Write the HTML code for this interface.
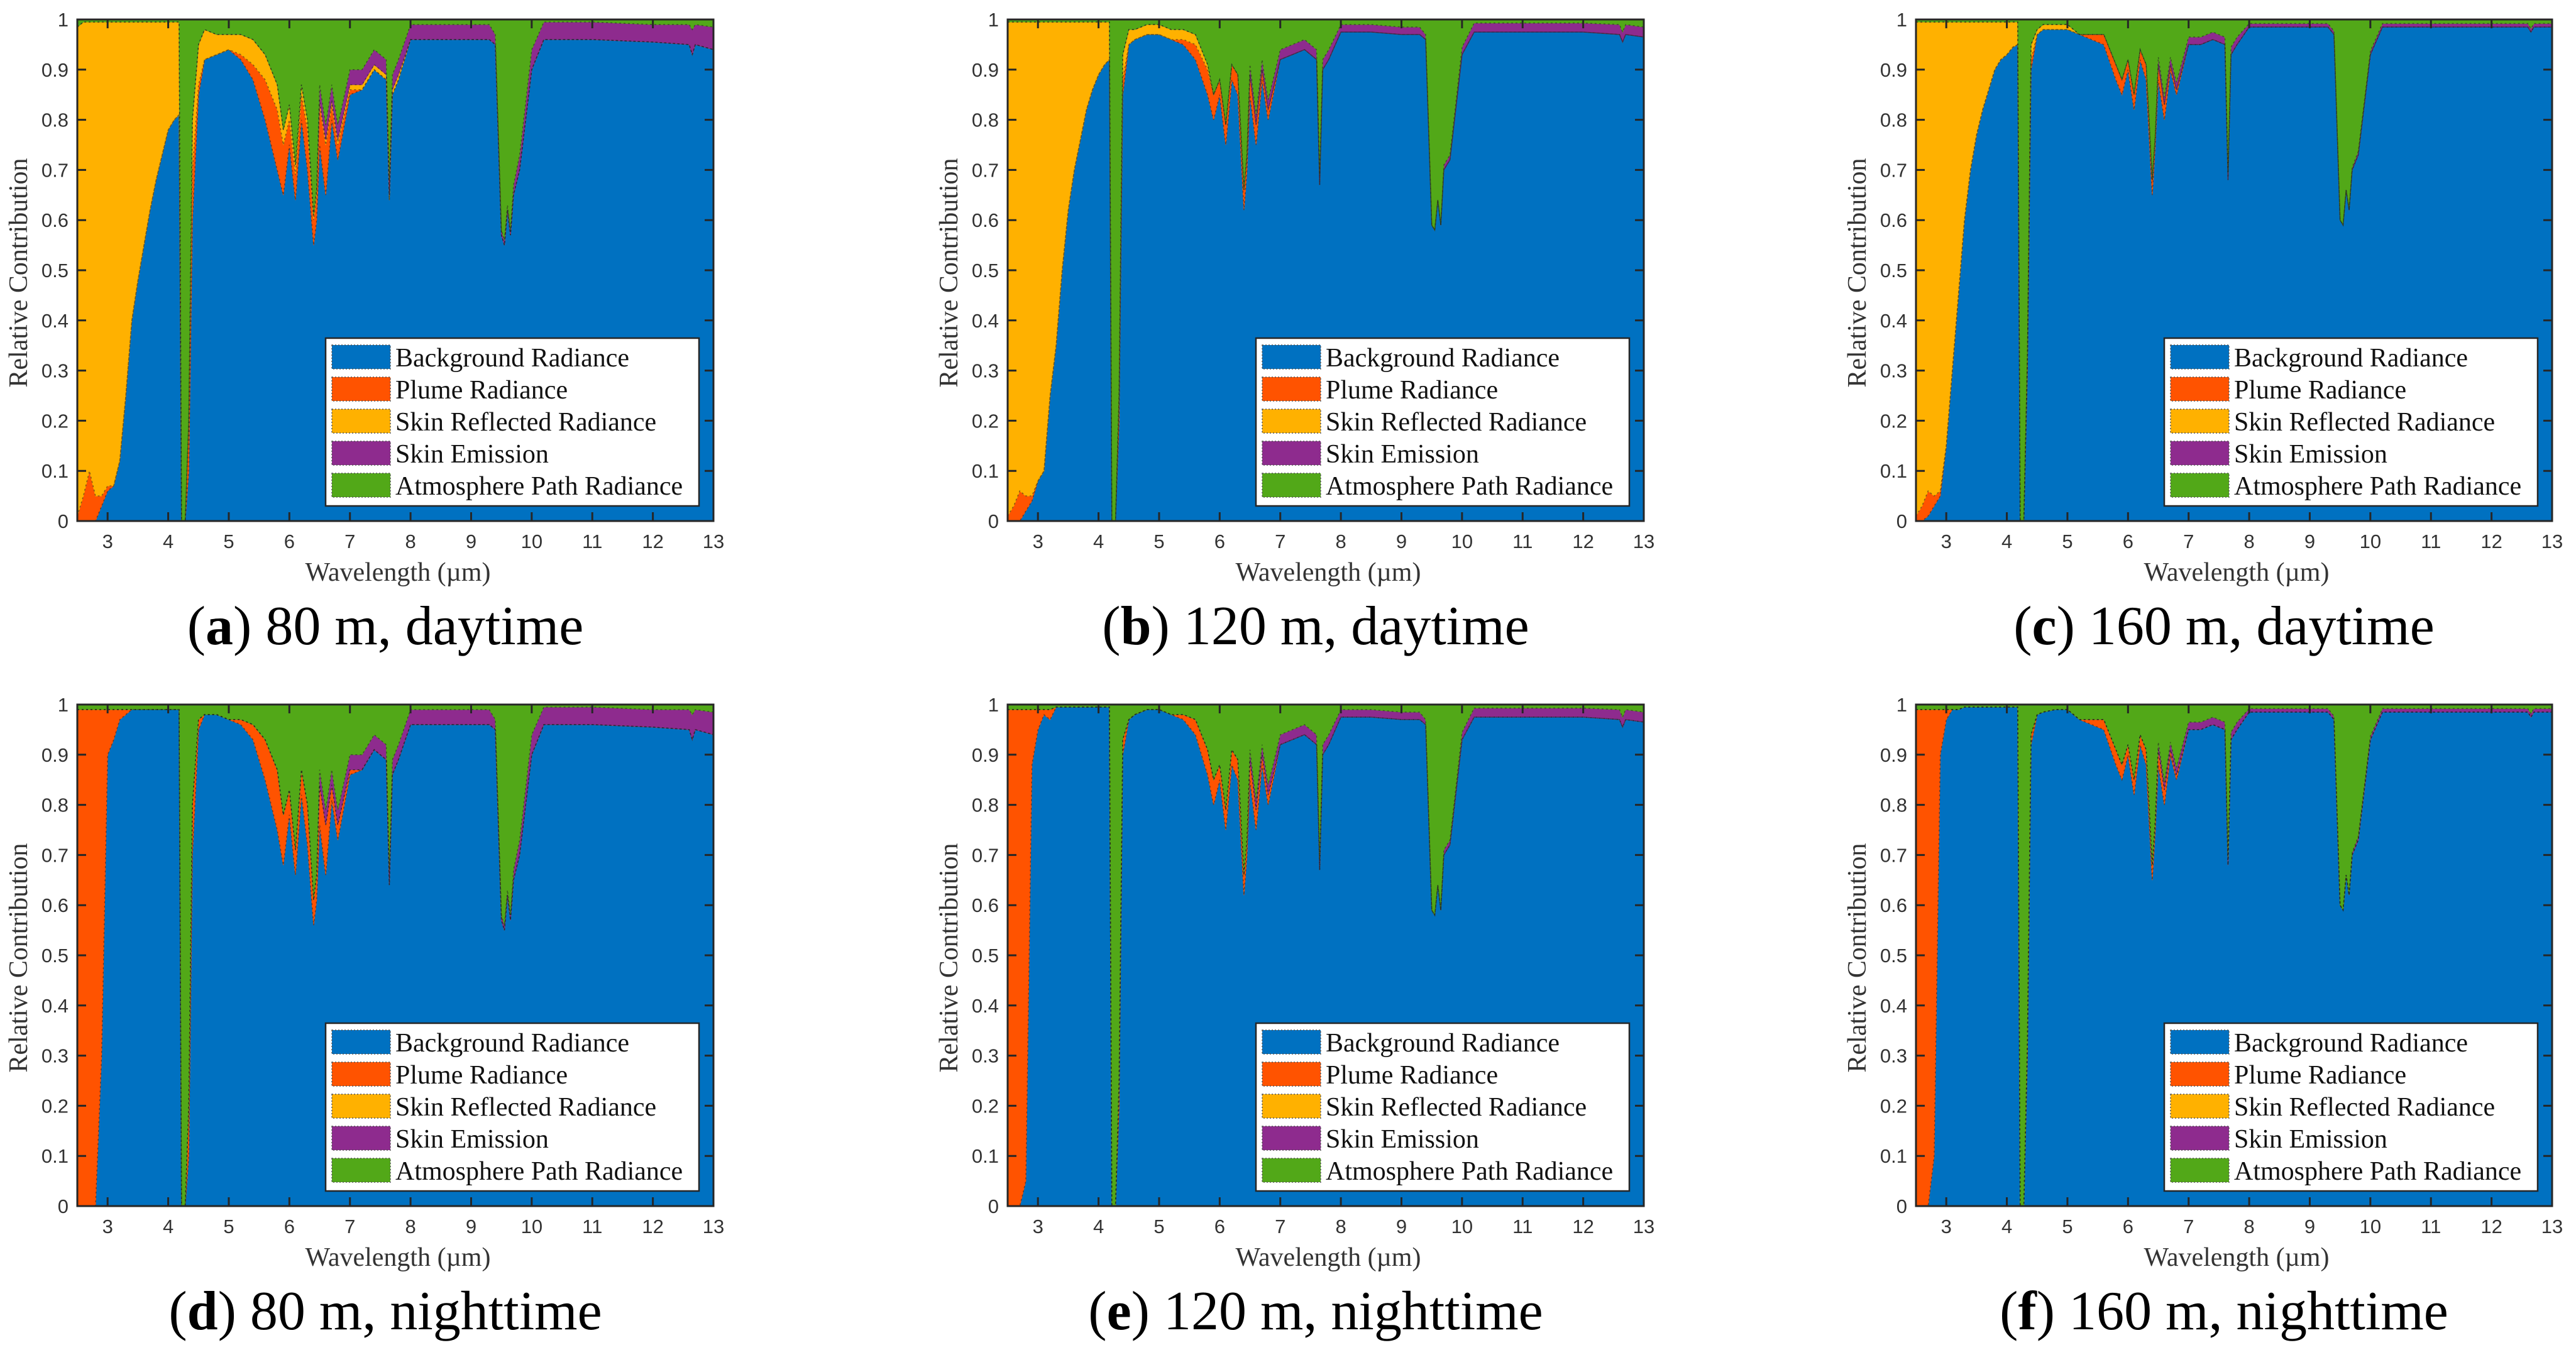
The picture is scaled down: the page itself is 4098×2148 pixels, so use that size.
<!DOCTYPE html>
<html><head><meta charset="utf-8"><style>
html,body{margin:0;padding:0;background:#fff;}
svg{display:block;}
</style></head><body>
<svg id="fig" xmlns="http://www.w3.org/2000/svg" width="4098" height="2148" viewBox="0 0 4098 2148"></svg>
<script>
// shared wavelength grid (µm)
const wavelengths = [2.5,2.6,2.7,2.8,2.9,3.0,3.1,3.2,3.3,3.4,3.5,3.6,3.7,3.8,3.9,4.0,4.1,4.18,4.22,4.28,4.34,4.4,4.5,4.6,4.8,5.0,5.2,5.4,5.6,5.8,5.9,6.0,6.1,6.2,6.3,6.4,6.45,6.5,6.6,6.7,6.8,7.0,7.2,7.4,7.6,7.65,7.7,7.8,8.0,8.5,9.0,9.3,9.4,9.5,9.55,9.6,9.65,9.7,9.8,10.0,10.2,10.5,11,12,12.6,12.65,12.7,13];
const xTicks = [3,4,5,6,7,8,9,10,11,12,13];
const yTicks = [0,0.1,0.2,0.3,0.4,0.5,0.6,0.7,0.8,0.9,1];
const yTickLabels = ["0","0.1","0.2","0.3","0.4","0.5","0.6","0.7","0.8","0.9","1"];
const seriesNames = ["Background Radiance","Plume Radiance","Skin Reflected Radiance","Skin Emission","Atmosphere Path Radiance"];

// panel (a) 80 m daytime
const bgA = [0,0,0,0,0.03,0.06,0.07,0.12,0.25,0.40,0.48,0.55,0.62,0.68,0.73,0.78,0.80,0.81,0,0,0.1,0.6,0.85,0.92,0.93,0.94,0.92,0.88,0.80,0.70,0.65,0.75,0.64,0.80,0.70,0.55,0.60,0.75,0.65,0.80,0.72,0.85,0.86,0.90,0.88,0.64,0.85,0.88,0.96,0.96,0.96,0.96,0.95,0.57,0.55,0.62,0.57,0.65,0.70,0.90,0.96,0.96,0.96,0.955,0.95,0.93,0.95,0.94];
const plumeA = [0.01,0.05,0.10,0.05,0.02,0.01,0,0,0,0,0,0,0,0,0,0,0,0,0,0,0.1,0.1,0.02,0,0,0,0.01,0.03,0.08,0.12,0.10,0.05,0.05,0.05,0.08,0.05,0.05,0.08,0.10,0.03,0.03,0.01,0,0,0,0,0,0,0,0,0,0,0,0,0,0,0,0,0,0,0,0,0,0,0,0,0,0];
const reflA = [0.975,0.945,0.895,0.945,0.945,0.925,0.925,0.875,0.745,0.595,0.515,0.445,0.375,0.315,0.265,0.215,0.195,0.185,0,0,0,0.1,0.08,0.06,0.04,0.03,0.04,0.05,0.05,0.05,0.03,0.03,0.02,0.02,0.02,0.01,0.01,0.01,0.01,0.01,0.01,0.01,0.01,0.01,0.01,0.01,0.01,0.01,0,0,0,0,0,0,0,0,0,0,0,0,0,0,0,0,0,0,0,0];
const emisA = [0,0,0,0,0,0,0,0,0,0,0,0,0,0,0,0,0,0,0,0,0,0,0,0,0,0,0,0,0,0,0,0,0,0,0,0,0,0.03,0.03,0.03,0.03,0.03,0.03,0.03,0.03,0.03,0.03,0.03,0.03,0.03,0.03,0.03,0.02,0.01,0.01,0.01,0.01,0.02,0.03,0.04,0.035,0.035,0.035,0.035,0.04,0.05,0.04,0.045];

// panel (b) 120 m daytime
const bgB = [0,0,0,0.02,0.04,0.08,0.10,0.25,0.35,0.50,0.62,0.70,0.76,0.82,0.86,0.89,0.91,0.92,0,0,0.2,0.85,0.95,0.96,0.97,0.97,0.96,0.95,0.92,0.85,0.80,0.85,0.75,0.88,0.85,0.62,0.70,0.85,0.75,0.88,0.80,0.92,0.93,0.94,0.92,0.67,0.90,0.92,0.975,0.975,0.97,0.97,0.96,0.59,0.58,0.64,0.59,0.70,0.72,0.93,0.975,0.975,0.975,0.975,0.97,0.955,0.97,0.965];
const plumeB = [0.01,0.03,0.06,0.03,0.01,0,0,0,0,0,0,0,0,0,0,0,0,0,0,0,0.05,0.03,0,0,0,0,0,0.01,0.03,0.05,0.05,0.03,0.04,0.03,0.04,0.04,0.03,0.04,0.04,0.02,0.02,0,0,0,0,0,0,0,0,0,0,0,0,0,0,0,0,0,0,0,0,0,0,0,0,0,0,0];
const reflB = [0.985,0.965,0.935,0.945,0.945,0.915,0.895,0.745,0.645,0.495,0.375,0.295,0.235,0.175,0.135,0.105,0.085,0.075,0,0,0,0.05,0.03,0.02,0.02,0.02,0.02,0.02,0.02,0.01,0,0,0,0,0,0,0,0,0,0,0,0,0,0,0,0,0,0,0,0,0,0,0,0,0,0,0,0,0,0,0,0,0,0,0,0,0,0];
const emisB = [0,0,0,0,0,0,0,0,0,0,0,0,0,0,0,0,0,0,0,0,0,0,0,0,0,0,0,0,0,0,0,0,0,0,0,0,0,0.02,0.02,0.02,0.02,0.02,0.02,0.02,0.02,0.02,0.02,0.02,0.015,0.015,0.015,0.015,0.01,0,0,0,0,0.01,0.01,0.015,0.018,0.018,0.018,0.018,0.02,0.02,0.02,0.02];

// panel (c) 160 m daytime
const bgC = [0,0,0.01,0.03,0.05,0.15,0.30,0.45,0.60,0.70,0.77,0.82,0.86,0.90,0.92,0.93,0.945,0.95,0,0,0.3,0.9,0.97,0.98,0.98,0.98,0.97,0.96,0.95,0.88,0.85,0.90,0.82,0.92,0.88,0.65,0.75,0.88,0.80,0.90,0.85,0.95,0.95,0.96,0.95,0.68,0.93,0.95,0.985,0.985,0.985,0.985,0.97,0.60,0.59,0.66,0.62,0.70,0.73,0.93,0.985,0.985,0.985,0.985,0.985,0.975,0.985,0.985];
const plumeC = [0.01,0.03,0.05,0.02,0.01,0,0,0,0,0,0,0,0,0,0,0,0,0,0,0,0.03,0.02,0,0,0,0,0,0.01,0.02,0.03,0.03,0.02,0.03,0.02,0.03,0.03,0.02,0.03,0.03,0.01,0.01,0,0,0,0,0,0,0,0,0,0,0,0,0,0,0,0,0,0,0,0,0,0,0,0,0,0,0];
const reflC = [0.985,0.965,0.935,0.945,0.935,0.845,0.695,0.545,0.395,0.295,0.225,0.175,0.135,0.095,0.075,0.065,0.05,0.045,0,0,0,0.03,0.01,0.01,0.01,0.01,0,0,0,0,0,0,0,0,0,0,0,0,0,0,0,0,0,0,0,0,0,0,0,0,0,0,0,0,0,0,0,0,0,0,0,0,0,0,0,0,0,0];
const emisC = [0,0,0,0,0,0,0,0,0,0,0,0,0,0,0,0,0,0,0,0,0,0,0,0,0,0,0,0,0,0,0,0,0,0,0,0,0,0.015,0.015,0.015,0.015,0.015,0.015,0.015,0.015,0.015,0.015,0.015,0.007,0.007,0.007,0.007,0.007,0,0,0,0,0.005,0.007,0.007,0.007,0.007,0.007,0.007,0.007,0.007,0.007,0.007];

// panel (d) 80 m nighttime
const bgD = [0,0,0,0,0.3,0.9,0.93,0.97,0.98,0.99,0.99,0.99,0.99,0.99,0.99,0.99,0.99,0.99,0,0,0.1,0.7,0.95,0.98,0.98,0.97,0.96,0.93,0.85,0.75,0.68,0.78,0.66,0.82,0.72,0.56,0.61,0.76,0.66,0.81,0.73,0.86,0.87,0.91,0.89,0.64,0.86,0.89,0.96,0.96,0.96,0.96,0.95,0.57,0.55,0.62,0.57,0.65,0.70,0.90,0.96,0.96,0.96,0.955,0.95,0.93,0.95,0.94];
const plumeD = [0.99,0.99,0.99,0.99,0.69,0.09,0.06,0.02,0.01,0,0,0,0,0,0,0,0,0,0,0,0.1,0.1,0.02,0,0,0,0.01,0.03,0.08,0.12,0.10,0.05,0.05,0.05,0.08,0.05,0.05,0.08,0.10,0.03,0.03,0.01,0,0,0,0,0,0,0,0,0,0,0,0,0,0,0,0,0,0,0,0,0,0,0,0,0,0];
const reflD = new Array(68).fill(0);
const emisD = [0,0,0,0,0,0,0,0,0,0,0,0,0,0,0,0,0,0,0,0,0,0,0,0,0,0,0,0,0,0,0,0,0,0,0,0,0,0.03,0.03,0.03,0.03,0.03,0.03,0.03,0.03,0.03,0.03,0.03,0.03,0.03,0.03,0.03,0.02,0.01,0.01,0.01,0.01,0.02,0.03,0.04,0.035,0.035,0.035,0.035,0.04,0.05,0.04,0.045];

// panel (e) 120 m nighttime
const bgE = [0,0,0,0.05,0.88,0.95,0.98,0.97,0.995,0.995,0.995,0.995,0.995,0.995,0.995,0.995,0.995,0.995,0,0,0.2,0.9,0.97,0.98,0.99,0.99,0.98,0.97,0.94,0.86,0.80,0.85,0.75,0.88,0.85,0.62,0.70,0.85,0.75,0.88,0.80,0.92,0.93,0.94,0.92,0.67,0.90,0.92,0.975,0.975,0.97,0.97,0.96,0.59,0.58,0.64,0.59,0.70,0.72,0.93,0.975,0.975,0.975,0.975,0.97,0.955,0.97,0.965];
const plumeE = [0.99,0.99,0.99,0.94,0.11,0.04,0.01,0.02,0,0,0,0,0,0,0,0,0,0,0,0,0.05,0.03,0,0,0,0,0,0.01,0.03,0.05,0.05,0.03,0.04,0.03,0.04,0.04,0.03,0.04,0.04,0.02,0.02,0,0,0,0,0,0,0,0,0,0,0,0,0,0,0,0,0,0,0,0,0,0,0,0,0,0,0];
const reflE = new Array(68).fill(0);
const emisE = [0,0,0,0,0,0,0,0,0,0,0,0,0,0,0,0,0,0,0,0,0,0,0,0,0,0,0,0,0,0,0,0,0,0,0,0,0,0.02,0.02,0.02,0.02,0.02,0.02,0.02,0.02,0.02,0.02,0.02,0.015,0.015,0.015,0.015,0.01,0,0,0,0,0.01,0.01,0.015,0.018,0.018,0.018,0.018,0.02,0.02,0.02,0.02];

// panel (f) 160 m nighttime
const bgF = [0,0,0,0.1,0.9,0.97,0.99,0.99,0.995,0.995,0.995,0.995,0.995,0.995,0.995,0.995,0.995,0.995,0,0,0.3,0.92,0.98,0.985,0.99,0.99,0.97,0.96,0.95,0.88,0.85,0.90,0.82,0.92,0.88,0.65,0.75,0.88,0.80,0.90,0.85,0.95,0.95,0.96,0.95,0.68,0.93,0.95,0.985,0.985,0.985,0.985,0.97,0.60,0.59,0.66,0.62,0.70,0.73,0.93,0.985,0.985,0.985,0.985,0.985,0.975,0.985,0.985];
const plumeF = [0.99,0.99,0.99,0.89,0.09,0.02,0,0,0,0,0,0,0,0,0,0,0,0,0,0,0.03,0.02,0,0,0,0,0,0.01,0.02,0.03,0.03,0.02,0.03,0.02,0.03,0.03,0.02,0.03,0.03,0.01,0.01,0,0,0,0,0,0,0,0,0,0,0,0,0,0,0,0,0,0,0,0,0,0,0,0,0,0,0];
const reflF = new Array(68).fill(0);
const emisF = [0,0,0,0,0,0,0,0,0,0,0,0,0,0,0,0,0,0,0,0,0,0,0,0,0,0,0,0,0,0,0,0,0,0,0,0,0,0.015,0.015,0.015,0.015,0.015,0.015,0.015,0.015,0.015,0.015,0.015,0.007,0.007,0.007,0.007,0.007,0,0,0,0,0.005,0.007,0.007,0.007,0.007,0.007,0.007,0.007,0.007,0.007,0.007];

const captionLetters = ["a","b","c","d","e","f"];
const captionTexts = [" 80 m, daytime"," 120 m, daytime"," 160 m, daytime"," 80 m, nighttime"," 120 m, nighttime"," 160 m, nighttime"];

const NS = "http://www.w3.org/2000/svg";
const svg = document.getElementById("fig");
const colors = ["#0071C1","#FF5300","#FFB100","#8E2B8E","#52A818"];
const PW = 1012, PH = 798;
const panelsX = [123,1603,3048];
const panelsY = [31,1121];
const panelData = [
  [bgA,plumeA,reflA,emisA],[bgB,plumeB,reflB,emisB],[bgC,plumeC,reflC,emisC],
  [bgD,plumeD,reflD,emisD],[bgE,plumeE,reflE,emisE],[bgF,plumeF,reflF,emisF]
];
function mk(tag, attrs, parent){
  const e = document.createElementNS(NS, tag);
  for (const k in attrs) e.setAttribute(k, attrs[k]);
  (parent||svg).appendChild(e);
  return e;
}

panelData.forEach((series, p) => {
  const ox = panelsX[p%3], oy = panelsY[Math.floor(p/3)];
  const xS = w => ox + (w-2.5)/(13-2.5)*PW;
  const yS = v => oy + PH - v*PH;
  const g = mk("g", {});
  
  
  const n = wavelengths.length;
  const cum = [new Array(n).fill(0)];
  for (let s=0; s<4; s++){
    cum.push(wavelengths.map((w,i)=> Math.min(1, cum[s][i] + (series[s][i]||0))));
  }
  cum.push(new Array(n).fill(1));
  for (let s=0; s<5; s++){
    const lo = cum[s], hi = cum[s+1];
    let d = "M" + wavelengths.map((w,i)=> xS(w).toFixed(1)+","+yS(hi[i]).toFixed(1)).join(" L");
    for (let i=n-1;i>=0;i--) d += " L"+xS(wavelengths[i]).toFixed(1)+","+yS(lo[i]).toFixed(1);
    d += " Z";
    const path = mk("path", {d:d, fill:colors[s], stroke:colors[s], "stroke-width":1}, g);
    
    
  }
  for (let s=1; s<5; s++){
    const hi = cum[s];
    const d = "M" + wavelengths.map((w,i)=> xS(w).toFixed(1)+","+yS(hi[i]).toFixed(1)).join(" L");
    const ln = mk("path", {d:d, fill:"none", stroke:"#222", "stroke-width":1.5, "stroke-dasharray":"3,4", opacity:0.55}, g);
    
    
  }
  const box = mk("rect", {x:ox, y:oy, width:PW, height:PH, fill:"none", stroke:"#262626", "stroke-width":3}, g);
  
  
  xTicks.forEach(t => {
    const x = xS(t);
    const tk = mk("path", {d:`M${x},${oy+PH} v-14 M${x},${oy} v14`, stroke:"#262626", "stroke-width":3}, g);
    
    
    const lb = mk("text", {x:x, y:oy+PH+43, "text-anchor":"middle", "font-family":"Liberation Sans, sans-serif", "font-size":31, fill:"#333"}, g);
    lb.textContent = String(t);
    
    
  });
  yTicks.forEach((t,i) => {
    const y = yS(t);
    const tk = mk("path", {d:`M${ox},${y} h14 M${ox+PW},${y} h-14`, stroke:"#262626", "stroke-width":3}, g);
    
    
    const lb = mk("text", {x:ox-14, y:y+11, "text-anchor":"end", "font-family":"Liberation Sans, sans-serif", "font-size":31, fill:"#333"}, g);
    lb.textContent = yTickLabels[i];
    
    
  });
  const xt = mk("text", {x:ox+PW/2+4, y:oy+PH+95, "text-anchor":"middle", "font-family":"Liberation Serif, serif", "font-size":42, fill:"#333"}, g);
  xt.textContent = "Wavelength (µm)";
  
  
  const ytx = ox-80, yty = oy+PH/2+4;
  const yt = mk("text", {x:ytx, y:yty, "text-anchor":"middle", "font-family":"Liberation Serif, serif", "font-size":42, fill:"#333", transform:`rotate(-90 ${ytx} ${yty})`}, g);
  yt.textContent = "Relative Contribution";
  
  
  const lx = ox+395, ly = oy+507;
  const lg = mk("g", {}, g);
  
  
  mk("rect", {x:lx, y:ly, width:594, height:267, fill:"#fff", stroke:"#262626", "stroke-width":2.5}, lg);
  seriesNames.forEach((nm, s) => {
    const ry = ly + 11 + s*51;
    const sw = mk("rect", {x:lx+10, y:ry, width:93, height:38, fill:colors[s], stroke:"#555", "stroke-width":1.5, "stroke-dasharray":"2,3"}, lg);
    
    
    const tx = mk("text", {x:lx+111, y:ry+34, "font-family":"Liberation Serif, serif", "font-size":42, fill:"#111"}, lg);
    tx.textContent = nm;
    
    
  });
  const cp = mk("text", {x:ox+PW/2-16, y:oy+PH+196, "text-anchor":"middle", "font-family":"Liberation Serif, serif", "font-size":88, fill:"#000"}, g);
  
  
  const t1 = mk("tspan", {}, cp); t1.textContent = "(";
  const t2 = mk("tspan", {"font-weight":"bold"}, cp); t2.textContent = captionLetters[p];
  const t3 = mk("tspan", {}, cp); t3.textContent = ")" + captionTexts[p];
});
</script>
</body></html>
